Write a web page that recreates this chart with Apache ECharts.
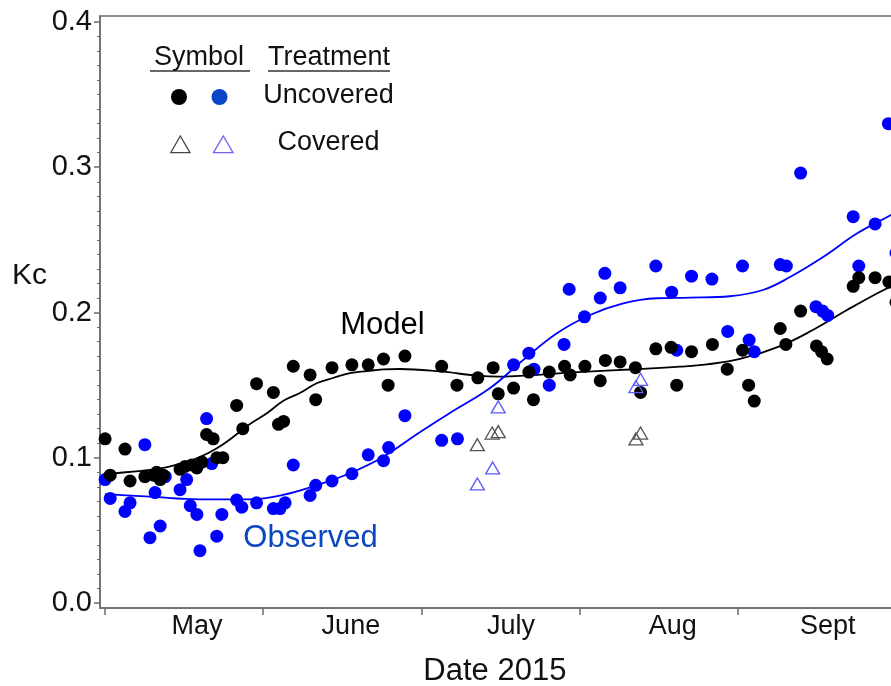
<!DOCTYPE html>
<html>
<head>
<meta charset="utf-8">
<script src="https://cdn.jsdelivr.net/npm/echarts@6/dist/echarts.min.js"></script>
<style>
  html, body { margin: 0; padding: 0; background: #fff; }
  #chart { width: 891px; height: 686px; }
</style>
</head>
<body>
<div id="chart"></div>
<script>
// x values: days after the start of May 2015 (month ticks every 31 days)
const monthTickDays = [0, 31, 62, 93, 124, 155];
const monthLabelDays = [18.0, 48.2, 79.6, 111.3, 141.7];
const monthNames = ['May', 'June', 'July', 'Aug', 'Sept'];
const yTickValues = [0.0, 0.1, 0.2, 0.3, 0.4];

// Model Kc, uncovered (black dots)
const modelUncovered = [
  [0.0,0.113],[3.9,0.106],[1.0,0.088],[4.9,0.084],[7.8,0.087],[9.5,0.088],[10.1,0.090],[10.8,0.085],
  [11.4,0.088],[14.7,0.092],[15.7,0.094],[17.0,0.095],[18.0,0.093],[19.0,0.097],[19.9,0.116],[21.2,0.113],
  [21.9,0.100],[23.1,0.100],[25.8,0.136],[27.0,0.120],[29.7,0.151],[33.0,0.145],[34.0,0.123],[35.0,0.125],
  [36.9,0.163],[40.2,0.157],[41.3,0.140],[44.5,0.162],[48.4,0.164],[51.6,0.164],[54.6,0.168],[55.5,0.150],
  [58.8,0.170],[66.0,0.163],[69.0,0.150],[73.1,0.155],[76.1,0.162],[77.1,0.144],[80.1,0.148],[83.1,0.159],
  [84.0,0.140],[87.1,0.159],[90.1,0.163],[91.2,0.157],[94.1,0.163],[97.1,0.153],[98.1,0.167],[101.0,0.166],
  [104.0,0.162],[105.0,0.145],[108.0,0.175],[111.0,0.176],[112.1,0.150],[115.0,0.173],[119.1,0.178],[122.0,0.161],
  [125.0,0.174],[126.2,0.150],[127.3,0.139],[132.4,0.189],[133.5,0.178],[136.4,0.201],[139.5,0.177],[140.5,0.173],
  [141.6,0.168],[146.7,0.218],[147.8,0.224],[151.0,0.224],[153.7,0.221],[155.1,0.207]
];

// Observed Kc, uncovered (blue dots)
const observedUncovered = [
  [0.0,0.085],[1.0,0.072],[3.9,0.063],[4.9,0.069],[7.8,0.109],[8.8,0.045],[9.8,0.076],[10.8,0.053],
  [11.8,0.087],[14.7,0.078],[16.0,0.085],[16.7,0.067],[18.0,0.061],[18.6,0.036],[19.9,0.127],[20.9,0.096],
  [21.9,0.046],[22.9,0.061],[25.8,0.071],[26.8,0.066],[29.7,0.069],[33.0,0.065],[34.3,0.065],[35.3,0.069],
  [36.9,0.095],[40.2,0.074],[41.3,0.081],[44.5,0.084],[48.4,0.089],[51.6,0.102],[54.6,0.098],[55.6,0.107],
  [58.8,0.129],[66.0,0.112],[69.1,0.113],[80.1,0.164],[83.1,0.172],[84.1,0.161],[87.1,0.150],[90.0,0.178],
  [91.0,0.216],[94.0,0.197],[97.1,0.210],[98.0,0.227],[101.0,0.217],[108.0,0.232],[111.1,0.214],[112.1,0.174],
  [115.0,0.225],[119.0,0.223],[122.1,0.187],[125.0,0.232],[126.3,0.181],[127.3,0.173],[132.4,0.233],[133.6,0.232],
  [136.4,0.296],[139.4,0.204],[140.7,0.201],[141.7,0.198],[146.7,0.266],[147.8,0.232],[151.0,0.261],[153.6,0.330],
  [155.1,0.241]
];

// Covered treatment (open triangles)
const modelCovered = [[73.0,0.109],[75.9,0.117],[77.1,0.118],[104.1,0.113],[105.0,0.117]];
const observedCovered = [[73.0,0.082],[76.0,0.093],[77.1,0.135],[104.1,0.149],[105.0,0.154]];

// Fitted curves
const modelFit = [
  [1.0,0.089],[5.5,0.0905],[8.8,0.0916],[12.2,0.0936],[15.3,0.0964],[18.6,0.1005],[22.0,0.1067],[25.1,0.1143],
  [28.4,0.1232],[31.8,0.1308],[34.9,0.1391],[38.2,0.1446],[41.6,0.1515],[44.7,0.1549],[48.0,0.1583],[51.4,0.1597],
  [54.5,0.1608],[57.8,0.1611],[65.7,0.1594],[72.9,0.1566],[77.5,0.1559],[82.0,0.1565],[91.8,0.1588],[104.9,0.1611],
  [112.7,0.1627],[118.0,0.1643],[124.5,0.1680],[132.4,0.1769],[138.8,0.1880],[145.5,0.2017],[152.0,0.2143],[156.0,0.2210]
];
const observedFit = [
  [0.0,0.0750],[8.8,0.0732],[18.6,0.0714],[28.4,0.0714],[34.9,0.0744],[41.6,0.0812],[48.0,0.0893],[54.5,0.1005],
  [61.2,0.1164],[67.6,0.1308],[75.5,0.1480],[82.0,0.1673],[88.6,0.1857],[95.1,0.1983],[101.6,0.2063],[108.2,0.2098],
  [114.7,0.2102],[122.5,0.2112],[129.0,0.2155],[134.3,0.2244],[140.8,0.2382],[147.5,0.2545],[154.1,0.2671],[156.0,0.2710]
];

const FONT = '"Liberation Sans", Arial, Helvetica, sans-serif';
const AXIS_COLOR = '#6b6b6b';
const BLUE = '#0000ff';
const LEGEND_BLUE = '#0a45c8';

const minorTicks = [];
for (let i = 1; i < 40; i++) { if (i % 10 !== 0) minorTicks.push(i / 100); }

function monthFormatter(v) {
  let best = 0, bd = Infinity;
  monthLabelDays.forEach((d, i) => { const dd = Math.abs(d - v); if (dd < bd) { bd = dd; best = i; } });
  return monthNames[best];
}

const chart = echarts.init(document.getElementById('chart'), null, { renderer: 'canvas' });

function txt(text, x, y, size, color) {
  return { type: 'text', style: { text: text, x: x, y: y, align: 'center', verticalAlign: 'middle', textAlign: 'center', textVerticalAlign: 'middle', font: size + 'px ' + FONT, fill: color } };
}

const option = {
  animation: false,
  backgroundColor: '#ffffff',
  grid: {
    left: 100, top: 16, width: 805.7, height: 592,
    containLabel: false,
    outerBoundsMode: 'none',
    show: true, borderColor: AXIS_COLOR, borderWidth: 1.5, backgroundColor: 'transparent'
  },
  xAxis: {
    type: 'value', min: -1, max: 157,
    name: 'Date 2015', nameLocation: 'middle', nameGap: 48,
    nameTextStyle: { fontSize: 31, color: '#111', fontFamily: FONT, padding: [0, 16, 0, 0] },
    axisLine: { show: true, onZero: false, lineStyle: { color: AXIS_COLOR, width: 1.5 } },
    axisTick: { show: true, inside: false, length: 7, customValues: monthTickDays, lineStyle: { color: AXIS_COLOR, width: 1.5 } },
    axisLabel: { show: true, customValues: monthLabelDays, formatter: monthFormatter, fontSize: 27, color: '#111', fontFamily: FONT, margin: 5 },
    splitLine: { show: false }
  },
  yAxis: [
    {
      type: 'value', min: -0.00344, max: 0.40413, position: 'left',
      axisLine: { show: true, onZero: false, lineStyle: { color: AXIS_COLOR, width: 1.5 } },
      axisTick: { show: true, inside: false, length: 6, customValues: yTickValues, lineStyle: { color: AXIS_COLOR, width: 1.5 } },
      axisLabel: { show: true, customValues: yTickValues, formatter: v => v.toFixed(1), fontSize: 29, color: '#111', fontFamily: FONT, margin: 8 },
      splitLine: { show: false }
    },
    {
      type: 'value', min: -0.00344, max: 0.40413, position: 'left', offset: 0,
      axisLine: { show: false, onZero: false },
      axisTick: { show: true, inside: false, length: 3, customValues: minorTicks, lineStyle: { color: AXIS_COLOR, width: 1 } },
      axisLabel: { show: false },
      splitLine: { show: false }
    }
  ],
  series: [
    {
      name: 'Model fit', type: 'line', data: modelFit, smooth: 0.4, showSymbol: false, silent: true,
      lineStyle: { color: '#000', width: 1.8 }, z: 1
    },
    {
      name: 'Observed fit', type: 'line', data: observedFit, smooth: 0.4, showSymbol: false, silent: true,
      lineStyle: { color: BLUE, width: 1.8 }, z: 1
    },
    {
      name: 'Observed, uncovered', type: 'scatter', data: observedUncovered, symbol: 'circle', symbolSize: 13,
      itemStyle: { color: BLUE, opacity: 1 }, z: 2
    },
    {
      name: 'Model, uncovered', type: 'scatter', data: modelUncovered, symbol: 'circle', symbolSize: 13,
      itemStyle: { color: '#000', opacity: 1 }, z: 3
    },
    {
      name: 'Model, covered', type: 'scatter', data: modelCovered, symbol: 'triangle', symbolSize: [14, 12],
      itemStyle: { color: 'rgba(0,0,0,0)', borderColor: '#555', borderWidth: 1.3, opacity: 1 }, z: 4
    },
    {
      name: 'Observed, covered', type: 'scatter', data: observedCovered, symbol: 'triangle', symbolSize: [14, 12],
      itemStyle: { color: 'rgba(0,0,0,0)', borderColor: '#5a5aff', borderWidth: 1.3, opacity: 1 }, z: 4
    }
  ],
  graphic: {
    elements: [
      txt('Kc', 29.5, 276, 30, '#111'),
      txt('Symbol', 199, 58, 27, '#111'),
      txt('Treatment', 329, 58, 27, '#111'),
      { type: 'line', shape: { x1: 150, y1: 71, x2: 250, y2: 71 }, style: { stroke: '#333', lineWidth: 1.5 } },
      { type: 'line', shape: { x1: 268, y1: 71, x2: 390, y2: 71 }, style: { stroke: '#333', lineWidth: 1.5 } },
      { type: 'circle', shape: { cx: 179, cy: 97, r: 8 }, style: { fill: '#000' } },
      { type: 'circle', shape: { cx: 219.5, cy: 97, r: 8 }, style: { fill: LEGEND_BLUE } },
      txt('Uncovered', 328.5, 96, 27, '#111'),
      { type: 'polygon', shape: { points: [[170.7, 152.7], [180.3, 136], [190, 152.7]] }, style: { fill: 'none', stroke: '#444', lineWidth: 1.3 } },
      { type: 'polygon', shape: { points: [[213.5, 152.7], [223.3, 136], [233, 152.7]] }, style: { fill: 'none', stroke: '#7a5cf0', lineWidth: 1.3 } },
      txt('Covered', 328.5, 143, 27, '#111'),
      txt('Model', 382.5, 325, 31, '#000'),
      txt('Observed', 310.5, 538.5, 31, '#0a47c2')
    ]
  }
};

chart.setOption(option);
</script>
</body>
</html>
